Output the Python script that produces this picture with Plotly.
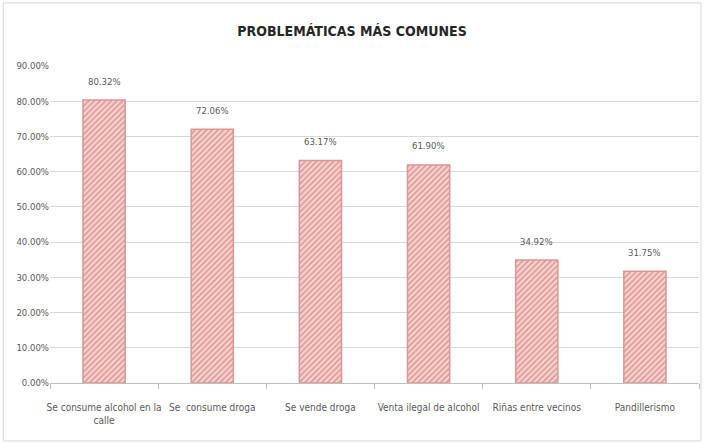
import plotly.graph_objects as go

# Données
categorias = ["Se consume alcohol en la<br>calle", "Se  consume droga", "Se vende droga",
              "Venta ilegal de alcohol", "Riñas entre vecinos", "Pandillerismo"]
porcentajes = [80.32, 72.06, 63.17, 61.90, 34.92, 31.75]
etiquetas = [f"{v:.2f}%" for v in porcentajes]
ticks_y = [0, 10, 20, 30, 40, 50, 60, 70, 80, 90]
textos_y = [f"{v:.2f}%" for v in ticks_y]

fuente = "DejaVu Sans Condensed, Liberation Sans Narrow, Roboto, sans-serif"
gris = "#595959"

fig = go.Figure(go.Bar(
    x=categorias,
    y=porcentajes,
    hoverinfo="skip",
    marker=dict(
        color="#f6d7d6",
        line=dict(color="#d99694", width=1.5),
        pattern=dict(shape="/", fgcolor="#d0625f", bgcolor="#f6d7d6", size=4, solidity=0.5),
    ),
))

# Étiquettes au-dessus des barres
for cat, val, txt in zip(categorias, porcentajes, etiquetas):
    fig.add_annotation(x=cat, y=val, text=txt, showarrow=False, yshift=19,
                       font=dict(family=fuente, size=9.5, color=gris))

# Mise en page
fig.update_layout(
    width=704, height=445,
    margin=dict(l=50, r=5, t=66, b=62),
    paper_bgcolor="white",
    plot_bgcolor="white",
    bargap=0.61,
    showlegend=False,
    title=dict(text="<b>PROBLEMÁTICAS MÁS COMUNES</b>", x=0.5, xanchor="center", y=0.93, yanchor="middle",
               font=dict(family=fuente, size=14, color="#262626")),
    font=dict(family=fuente, size=9.5, color=gris),
)

fig.update_yaxes(range=[0, 90], tickmode="array", tickvals=ticks_y, ticktext=textos_y,
                 showgrid=True, gridcolor="#d9d9d9", gridwidth=1, zeroline=False,
                 showline=False, tickfont=dict(family=fuente, size=9.5, color=gris))
fig.update_xaxes(showline=True, linecolor="#bfbfbf", linewidth=1, ticks="outside",
                 tickson="boundaries", tickcolor="#bfbfbf", ticklen=5, tickangle=0,
                 ticklabelstandoff=15,
                 tickfont=dict(family=fuente, size=10, color=gris))

# Cadre autour du graphique
fig.add_shape(type="rect", xref="paper", yref="paper", x0=-0.072, x1=1.003, y0=-0.183, y1=1.199,
              line=dict(color="#d9d9d9", width=1), layer="below")

fig.write_html("out.html", config={"displayModeBar": False},
               post_script="document.body.style.margin='0';")
